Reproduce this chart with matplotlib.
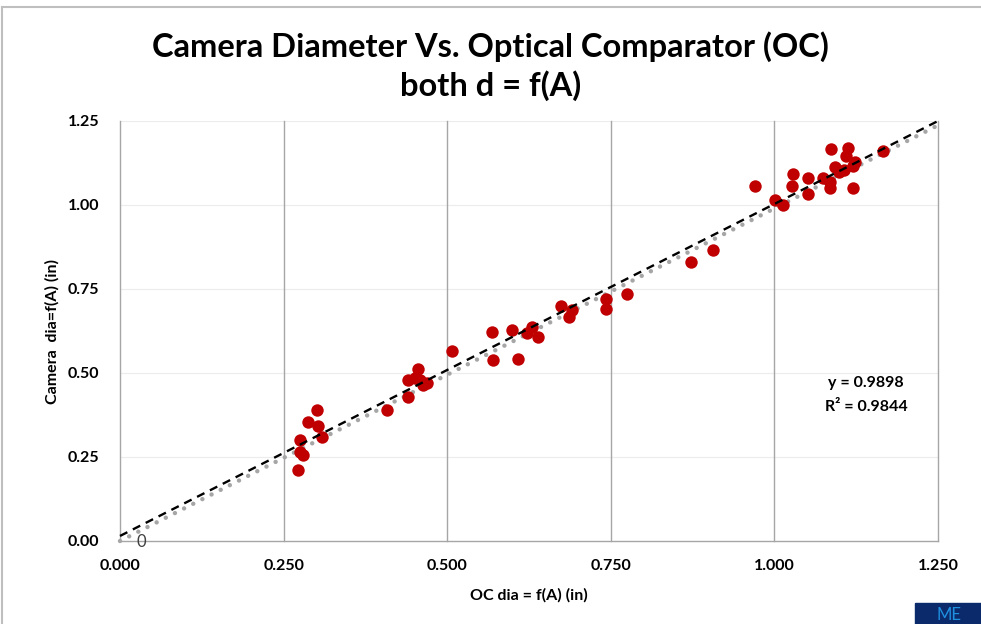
import matplotlib
matplotlib.use("Agg")
import matplotlib.pyplot as plt
from matplotlib.lines import Line2D
from matplotlib.patches import Rectangle
import numpy as np

oc_dia = [0.272, 0.275, 0.275, 0.280, 0.287, 0.301, 0.303, 0.309, 0.408,
          0.440, 0.455, 0.440, 0.451, 0.458, 0.463, 0.469, 0.507,
          0.568, 0.570, 0.599, 0.608, 0.622, 0.630, 0.639, 0.674, 0.691, 0.686,
          0.743, 0.743, 0.775, 0.873, 0.906,
          0.970, 1.001, 1.013, 1.028, 1.027, 1.051, 1.052, 1.074, 1.085, 1.085,
          1.086, 1.093, 1.099, 1.106, 1.109, 1.112, 1.120, 1.123, 1.120, 1.166]
cam_dia = [0.211, 0.301, 0.265, 0.256, 0.354, 0.390, 0.342, 0.310, 0.390,
           0.479, 0.512, 0.429, 0.485, 0.479, 0.464, 0.470, 0.565,
           0.622, 0.539, 0.628, 0.542, 0.619, 0.637, 0.607, 0.699, 0.687, 0.667,
           0.720, 0.690, 0.735, 0.830, 0.866,
           1.057, 1.015, 1.000, 1.092, 1.057, 1.080, 1.033, 1.080, 1.068, 1.051,
           1.167, 1.113, 1.098, 1.104, 1.146, 1.170, 1.051, 1.128, 1.116, 1.161]

trend_slope = 0.9898          # forced through origin (gray dotted)
trend_r2 = 0.9844
ref_intercept = 0.015         # black dashed line
ref_slope = 0.988

x_ticks = [0.0, 0.25, 0.5, 0.75, 1.0, 1.25]
y_ticks = [0.0, 0.25, 0.5, 0.75, 1.0, 1.25]

FONT = "Lato"
plt.rcParams['font.family'] = [FONT, 'DejaVu Sans']

fig = plt.figure(figsize=(9.81, 6.24), dpi=100)
ax = fig.add_axes([120/981, 1-541/624, (938-120)/981, (541-121)/624])

ax.set_xlim(0, 1.25)
ax.set_ylim(0, 1.25)

for yv in y_ticks[1:]:
    ax.axhline(yv, color="#ececec", lw=0.8, zorder=0)
for xv in x_ticks[1:]:
    ax.axvline(xv, color="#a6a6a6", lw=1.0, zorder=0, clip_on=False)

xx = np.array([0.0, 1.25])
ax.plot(xx, trend_slope*xx, color="#a6a6a6", lw=3.2, ls=(0, (0.01, 2.3)),
        dash_capstyle="round", solid_capstyle="round", zorder=2, clip_on=False)
ax.scatter(oc_dia, cam_dia, s=80, color="#c00000", zorder=3, linewidths=0)
ax.plot(xx, ref_intercept + ref_slope*xx, color="black", lw=1.7,
        ls=(0, (3.5, 2.6)), zorder=4, clip_on=False)

ax.text(0.033, -0.002, "0", fontsize=12, ha="center", va="center", color="#404040")
ax.text(1.14, 0.470, "y = 0.9898", fontsize=11.5, fontweight="bold", ha="center", va="center")
ax.text(1.14, 0.399, "R² = %.4f" % trend_r2, fontsize=11.5, fontweight="bold", ha="center", va="center")

ax.set_xticks(x_ticks)
ax.set_xticklabels(["%.3f" % v for v in x_ticks])
ax.set_yticks(y_ticks)
ax.set_yticklabels(["%.2f" % v for v in y_ticks])
ax.tick_params(length=0, labelsize=11.5)
ax.tick_params(axis="x", pad=13)
ax.tick_params(axis="y", pad=15)
for lab in ax.get_xticklabels() + ax.get_yticklabels():
    lab.set_fontweight("bold")

for s in ["top", "right"]:
    ax.spines[s].set_visible(False)
for s in ["left", "bottom"]:
    ax.spines[s].set_color("#a6a6a6")
    ax.spines[s].set_linewidth(1.0)

ax.set_xlabel("OC dia = f(A) (in)", fontsize=11.5, fontweight="bold", labelpad=11)
ax.set_ylabel("Camera  dia=f(A) (in)", fontsize=11.5, fontweight="bold", labelpad=6)

fig.text(0.5, 1-47/624, "Camera Diameter Vs. Optical Comparator (OC)", fontsize=23.5,
         fontweight="bold", ha="center", va="center")
fig.text(0.5, 1-86/624, "both d = f(A)", fontsize=23.5, fontweight="bold", ha="center", va="center")

# outer chart border
fig.add_artist(Line2D([1.5/981, 1.5/981], [0, 1-6.5/624], color="#bfbfbf", lw=1.5))
fig.add_artist(Line2D([1.5/981, 1], [1-6.5/624, 1-6.5/624], color="#bfbfbf", lw=1.5))
# partial logo box bottom right
fig.add_artist(Rectangle((915/981, 0), 66/981, 21/624, transform=fig.transFigure,
                         color="#0a2a6b", zorder=5))
fig.text(936/981, 1/624, "ME", fontsize=12, color="#1f8fe0", ha="left", va="bottom", zorder=6)

fig.savefig("out.png", dpi=100)
